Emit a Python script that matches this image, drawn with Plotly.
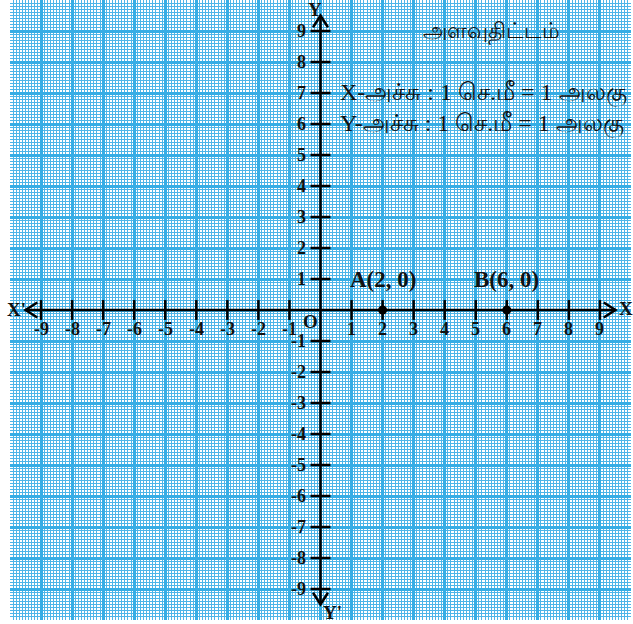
import plotly.graph_objects as go

# ---- data ----
x_ticks = [-9, -8, -7, -6, -5, -4, -3, -2, -1, 1, 2, 3, 4, 5, 6, 7, 8, 9]
y_ticks = [-9, -8, -7, -6, -5, -4, -3, -2, -1, 1, 2, 3, 4, 5, 6, 7, 8, 9]
x_tick_labels = [str(v) for v in x_ticks]
y_tick_labels = [str(v) for v in y_ticks]
point_names = ["A(2, 0)", "B(6, 0)"]
point_x = [2, 6]
point_y = [0, 0]
scale_title = "அளவுதிட்டம்"
scale_lines = ["X-அச்சு : 1 செ.மீ = 1 அலகு", "Y-அச்சு : 1 செ.மீ = 1 அலகு"]

AX = 9.5        # axis extent
TK = 0.32       # tick half length
BLUE = "#36ADE5"
MINOR = "#4DB5E8"
SERIF = "Liberation Serif, Times New Roman, serif"

fig = go.Figure()

# axes lines
fig.add_trace(go.Scatter(x=[-AX, AX], y=[0, 0], mode="lines",
                         line=dict(color="black", width=2.5), hoverinfo="skip"))
fig.add_trace(go.Scatter(x=[0, 0], y=[-AX, AX], mode="lines",
                         line=dict(color="black", width=2.5), hoverinfo="skip"))

# arrow heads (chevrons)
ah, aw = 0.38, 0.24
chev_x = [AX - ah, AX, AX - ah, None, -AX + ah, -AX, -AX + ah, None,
          -aw, 0, aw, None, -aw, 0, aw]
chev_y = [aw, 0, -aw, None, aw, 0, -aw, None,
          AX - ah, AX, AX - ah, None, -AX + ah, -AX, -AX + ah]
fig.add_trace(go.Scatter(x=chev_x, y=chev_y, mode="lines",
                         line=dict(color="black", width=2.5), hoverinfo="skip"))

# ticks
tx, ty = [], []
for v in x_ticks:
    tx += [v, v, None]
    ty += [-TK, TK, None]
for v in y_ticks:
    tx += [-TK, TK, None]
    ty += [v, v, None]
fig.add_trace(go.Scatter(x=tx, y=ty, mode="lines",
                         line=dict(color="black", width=2.5), hoverinfo="skip"))

# points
fig.add_trace(go.Scatter(x=point_x, y=point_y, mode="markers",
                         marker=dict(color="black", size=9), hoverinfo="skip"))

ann = []
for v, t in zip(x_ticks, x_tick_labels):
    ann.append(dict(x=v, y=0, text="<b>" + t + "</b>", showarrow=False, yshift=-19,
                    font=dict(family=SERIF, size=18, color="#111"),
                    xanchor="center", yanchor="middle"))
for v, t in zip(y_ticks, y_tick_labels):
    ann.append(dict(x=0, y=v, text="<b>" + t + "</b>", showarrow=False, xshift=-13,
                    font=dict(family=SERIF, size=18, color="#111"),
                    xanchor="right", yanchor="middle"))
for n, px, py in zip(point_names, point_x, point_y):
    ann.append(dict(x=px, y=py + 1, text="<b>" + n + "</b>", showarrow=False,
                    font=dict(family=SERIF, size=23, color="#111"),
                    xanchor="center", yanchor="middle"))

# axis names
ann += [
    dict(x=0, y=0, text="<b>O</b>", showarrow=False, xshift=-10, yshift=-11,
         font=dict(family=SERIF, size=19, color="#111")),
    dict(x=-AX, y=0, text="<b>X'</b>", showarrow=False, xshift=-9, yshift=1,
         font=dict(family=SERIF, size=19, color="#111")),
    dict(x=AX, y=0, text="<b>X</b>", showarrow=False, xshift=11, yshift=2,
         font=dict(family=SERIF, size=19, color="#111")),
    dict(x=0, y=AX, text="<b>Y</b>", showarrow=False, xshift=-6, yshift=6,
         font=dict(family=SERIF, size=19, color="#111")),
    dict(x=0, y=-AX, text="<b>Y'</b>", showarrow=False, xshift=12, yshift=-8,
         font=dict(family=SERIF, size=19, color="#111")),
]

# scale text
ann.append(dict(x=5.5, y=9.0, text=scale_title, showarrow=False,
                font=dict(family=SERIF, size=22, color="#111"),
                xanchor="center", yanchor="middle"))
for i, t in enumerate(scale_lines):
    ann.append(dict(x=0.55, y=7 - i, text=t, showarrow=False,
                    font=dict(family=SERIF, size=24, color="#111"),
                    xanchor="left", yanchor="middle"))

fig.update_layout(
    width=633, height=624,
    margin=dict(l=10, r=2, t=0, b=4),
    paper_bgcolor="white", plot_bgcolor="white",
    showlegend=False,
    annotations=ann,
)
axis_common = dict(
    range=[-10, 10], dtick=1, tick0=0,
    showgrid=True, gridcolor=BLUE, gridwidth=3,
    minor=dict(dtick=0.1, showgrid=True, gridcolor=MINOR, gridwidth=1.15),
    zeroline=False, showticklabels=False, ticks="", showline=False,
    fixedrange=True,
)
fig.update_xaxes(**axis_common)
fig.update_yaxes(**axis_common)

fig.write_html("out.html", config={"displayModeBar": False},
               post_script="document.body.style.margin='0';document.body.style.padding='0';")
